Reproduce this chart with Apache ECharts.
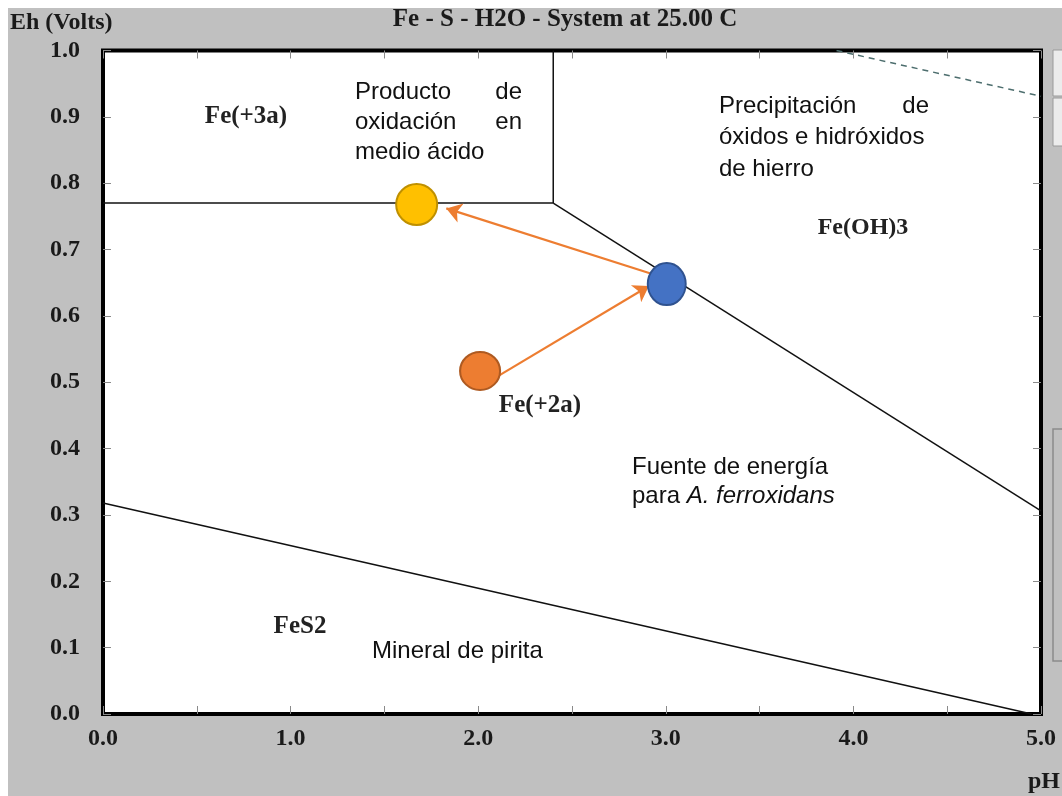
<!DOCTYPE html>
<html>
<head>
<meta charset="utf-8">
<script src="https://cdn.jsdelivr.net/npm/echarts@6/dist/echarts.min.js"></script>
<style>html,body{margin:0;padding:0;background:#fff}#c{width:1062px;height:796px}</style>
</head>
<body>
<div id="c"></div>
<script>
// ---- data ----
const xTicks = [0, 0.5, 1, 1.5, 2, 2.5, 3, 3.5, 4, 4.5, 5];
const yTicks = [0, 0.1, 0.2, 0.3, 0.4, 0.5, 0.6, 0.7, 0.8, 0.9, 1.0];
const fe3Fe2Line = [[0, 0.77], [2.4, 0.77]];
const fe3FeOH3Line = [[2.4, 0.77], [2.4, 1.0]];
const fe2FeOH3Line = [[2.4, 0.77], [5.0, 0.306]];
const pyriteLine = [[0, 0.318], [4.95, 0.0]];
const waterO2Line = [[3.91, 1.0], [5.0, 0.931]];
const pointFe2 = [2.01, 0.517];
const pointBlue = [3.005, 0.648];
const pointFe3 = [1.672, 0.768];
const arrow1 = [[2.11, 0.51], [2.91, 0.645]];
const arrow2 = [[2.94, 0.662], [1.83, 0.762]];

const serif = '"Liberation Serif", "Times New Roman", serif';
const sans = '"Liberation Sans", Arial, sans-serif';

const chart = echarts.init(document.getElementById('c'), null, {renderer: 'canvas'});

function lineSeries(data, color, width, type) {
  return {type: 'line', data: data, symbol: 'none', silent: true, animation: false,
    lineStyle: {color: color, width: width, type: type || 'solid'}, z: 3};
}

const axisCommon = {
  type: 'value', min: 0, axisLine: {show: false, onZero: false}, splitLine: {show: false},
  axisTick: {show: true, inside: true, length: 8, lineStyle: {color: '#8a8a8a', width: 1}}
};

const option = {
  backgroundColor: '#c0c0c0',
  animation: false,
  grid: {left: 103, right: 21, top: 50.5, bottom: 82, show: true,
    backgroundColor: '#ffffff', borderColor: '#000000', borderWidth: 4},
  xAxis: [
    Object.assign({}, axisCommon, {max: 5, interval: 0.5, position: 'bottom',
      axisLabel: {show: true, margin: 13, color: '#1a1a1a', fontFamily: serif, fontWeight: 'bold', fontSize: 24,
        formatter: v => (Math.abs(v - Math.round(v)) < 1e-9 ? v.toFixed(1) : '')}}),
    Object.assign({}, axisCommon, {max: 5, interval: 0.5, position: 'top', axisLabel: {show: false}})
  ],
  yAxis: [
    Object.assign({}, axisCommon, {max: 1, interval: 0.1, position: 'left',
      axisLabel: {show: true, margin: 23, color: '#1a1a1a', fontFamily: serif, fontWeight: 'bold', fontSize: 24,
        formatter: v => v.toFixed(1)}}),
    Object.assign({}, axisCommon, {max: 1, interval: 0.1, position: 'right', axisLabel: {show: false}})
  ],
  series: [
    lineSeries(fe3Fe2Line, '#111', 1.5),
    lineSeries(fe3FeOH3Line, '#111', 1.5),
    lineSeries(fe2FeOH3Line, '#111', 1.5),
    lineSeries(pyriteLine, '#111', 1.5),
    lineSeries(waterO2Line, '#4d6e6e', 1.5, [6, 5]),
    {type: 'lines', coordinateSystem: 'cartesian2d', silent: true, z: 4,
      symbol: ['none', 'arrow'], symbolSize: 15,
      lineStyle: {color: '#ED7D31', width: 2.2, opacity: 1},
      data: [{coords: arrow1}, {coords: arrow2}]},
    {type: 'scatter', silent: true, z: 5,
      itemStyle: {opacity: 1},
      data: [
        {value: pointFe2, symbolSize: [40, 38], itemStyle: {color: '#ED7D31', borderColor: '#AE5A21', borderWidth: 2, opacity: 1}},
        {value: pointBlue, symbolSize: [38, 42], itemStyle: {color: '#4472C4', borderColor: '#2F528F', borderWidth: 2, opacity: 1}},
        {value: pointFe3, symbolSize: [41, 41], itemStyle: {color: '#FFC000', borderColor: '#BF9000', borderWidth: 2, opacity: 1}}
      ]}
  ],
  graphic: [
    {type: 'rect', shape: {x: 0, y: 0, width: 1062, height: 8}, style: {fill: '#ffffff'}, silent: true},
    {type: 'rect', shape: {x: 0, y: 0, width: 8, height: 796}, style: {fill: '#ffffff'}, silent: true},
    {type: 'rect', shape: {x: 1053, y: 50, width: 20, height: 46}, style: {fill: '#ececec', stroke: '#9a9a9a', lineWidth: 1}, silent: true},
    {type: 'rect', shape: {x: 1053, y: 98, width: 20, height: 48}, style: {fill: '#ececec', stroke: '#9a9a9a', lineWidth: 1}, silent: true},
    {type: 'rect', shape: {x: 1053, y: 429, width: 20, height: 232}, style: {fill: 'none', stroke: '#8a8a8a', lineWidth: 1.5}, silent: true},
    {type: 'text', left: 10, top: 11, style: {text: 'Eh (Volts)', font: 'bold 24px ' + serif, fill: '#1a1a1a'}},
    {type: 'text', x: 565, y: 20, style: {text: 'Fe - S - H2O - System at 25.00 C', font: 'bold 25px ' + serif, fill: '#1a1a1a', textAlign: 'center', textVerticalAlign: 'middle'}},
    {type: 'text', x: 1044, y: 782, style: {text: 'pH', font: 'bold 24px ' + serif, fill: '#1a1a1a', textAlign: 'center', textVerticalAlign: 'middle'}},
    // region labels
    {type: 'text', x: 246, y: 117, z: 10, style: {text: 'Fe(+3a)', font: 'bold 25px ' + serif, fill: '#222', textAlign: 'center', textVerticalAlign: 'middle'}},
    {type: 'text', x: 540, y: 406, z: 10, style: {text: 'Fe(+2a)', font: 'bold 25px ' + serif, fill: '#222', textAlign: 'center', textVerticalAlign: 'middle'}},
    {type: 'text', x: 863, y: 228, z: 10, style: {text: 'Fe(OH)3', font: 'bold 24px ' + serif, fill: '#222', textAlign: 'center', textVerticalAlign: 'middle'}},
    {type: 'text', x: 300, y: 627, z: 10, style: {text: 'FeS2', font: 'bold 25px ' + serif, fill: '#222', textAlign: 'center', textVerticalAlign: 'middle'}},
    // annotations
    {type: 'text', x: 355, y: 92, z: 10, style: {text: 'Producto', font: '24px ' + sans, fill: '#111', textAlign: 'left', textVerticalAlign: 'middle'}},
    {type: 'text', x: 522, y: 92, z: 10, style: {text: 'de', font: '24px ' + sans, fill: '#111', textAlign: 'right', textVerticalAlign: 'middle'}},
    {type: 'text', x: 355, y: 122, z: 10, style: {text: 'oxidación', font: '24px ' + sans, fill: '#111', textAlign: 'left', textVerticalAlign: 'middle'}},
    {type: 'text', x: 522, y: 122, z: 10, style: {text: 'en', font: '24px ' + sans, fill: '#111', textAlign: 'right', textVerticalAlign: 'middle'}},
    {type: 'text', x: 355, y: 152, z: 10, style: {text: 'medio ácido', font: '24px ' + sans, fill: '#111', textAlign: 'left', textVerticalAlign: 'middle'}},
    {type: 'text', x: 719, y: 106, z: 10, style: {text: 'Precipitación', font: '24px ' + sans, fill: '#111', textAlign: 'left', textVerticalAlign: 'middle'}},
    {type: 'text', x: 929, y: 106, z: 10, style: {text: 'de', font: '24px ' + sans, fill: '#111', textAlign: 'right', textVerticalAlign: 'middle'}},
    {type: 'text', x: 719, y: 137, z: 10, style: {text: 'óxidos e hidróxidos', font: '24px ' + sans, fill: '#111', textAlign: 'left', textVerticalAlign: 'middle'}},
    {type: 'text', x: 719, y: 169, z: 10, style: {text: 'de hierro', font: '24px ' + sans, fill: '#111', textAlign: 'left', textVerticalAlign: 'middle'}},
    {type: 'text', x: 632, y: 467, z: 10, style: {text: 'Fuente de energía', font: '24px ' + sans, fill: '#111', textAlign: 'left', textVerticalAlign: 'middle'}},
    {type: 'text', x: 632, y: 496, z: 10, style: {text: '{n|para }{i|A. ferroxidans}', textVerticalAlign: 'middle', textAlign: 'left',
      rich: {n: {font: '24px ' + sans, fill: '#111', color: '#111'}, i: {font: 'italic 24px ' + sans, fill: '#111', color: '#111'}}}},
    {type: 'text', x: 372, y: 651, z: 10, style: {text: 'Mineral de pirita', font: '24px ' + sans, fill: '#111', textAlign: 'left', textVerticalAlign: 'middle'}}
  ]
};
chart.setOption(option);
</script>
</body>
</html>
